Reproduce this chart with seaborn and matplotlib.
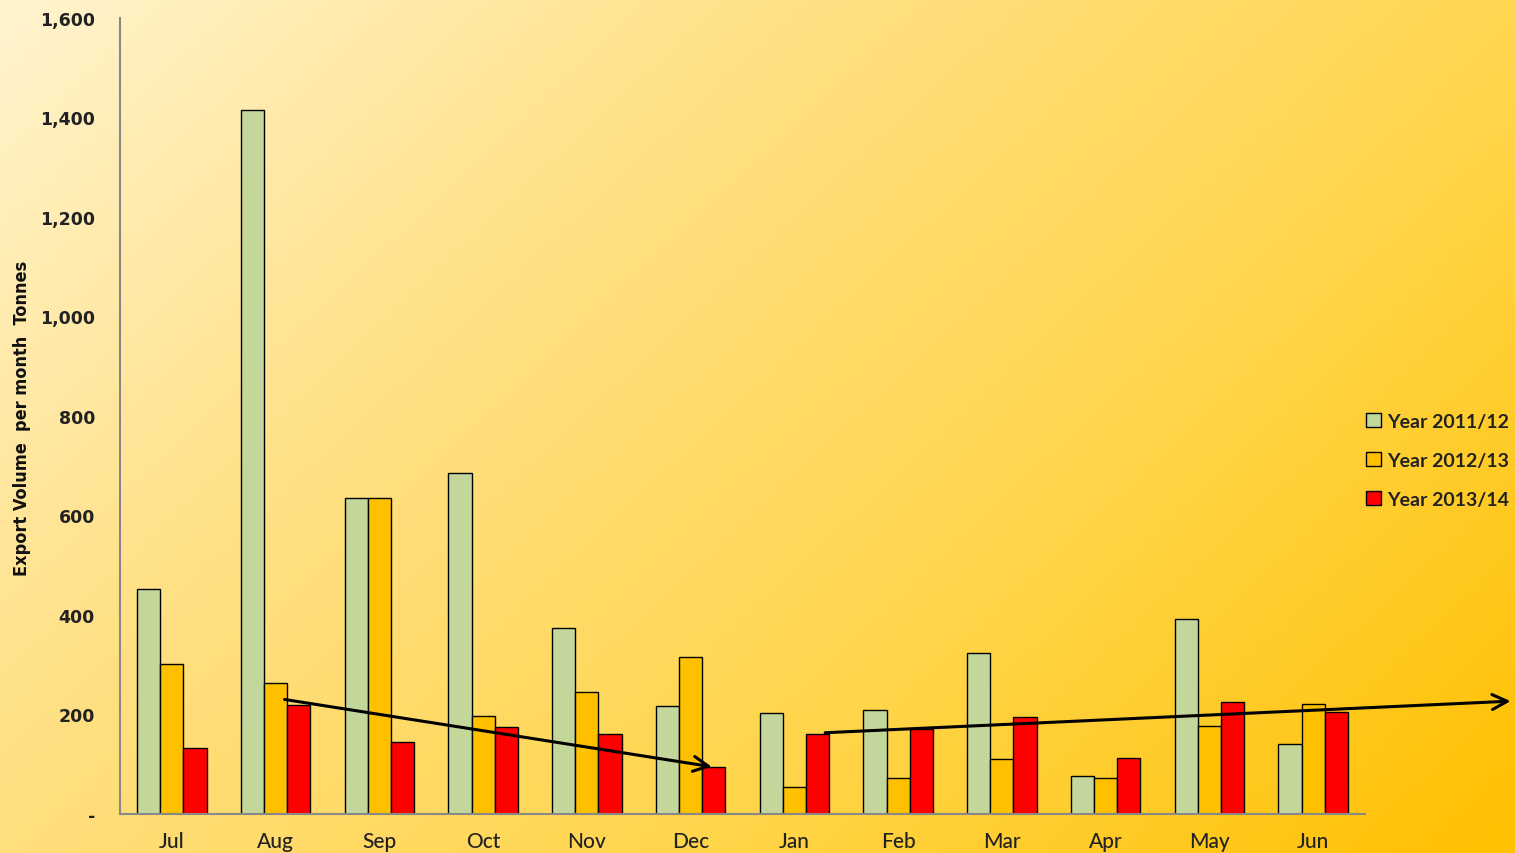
import numpy as np
import pandas as pd
import matplotlib
matplotlib.use("Agg")
import matplotlib.pyplot as plt
import seaborn as sns
from matplotlib.colors import LinearSegmentedColormap

months = ["Jul", "Aug", "Sep", "Oct", "Nov", "Dec", "Jan", "Feb", "Mar", "Apr", "May", "Jun"]
series_names = ["Year 2011/12", "Year 2012/13", "Year 2013/14"]
y2011 = [452, 1415, 635, 685, 374, 217, 203, 209, 324, 76, 392, 141]
y2012 = [301, 263, 635, 197, 245, 316, 54, 72, 111, 72, 177, 221]
y2013 = [133, 219, 145, 175, 161, 94, 161, 171, 195, 113, 225, 205]
colors = ["#C4D79B", "#FFC000", "#FF0000"]
yticks = [0, 200, 400, 600, 800, 1000, 1200, 1400, 1600]
ytick_labels = ["-", "200", "400", "600", "800", "1,000", "1,200", "1,400", "1,600"]
trend1 = [(1.06, 231), (5.23, 94)]
trend2 = [(6.27, 163), (12.93, 227)]

df = pd.DataFrame({
    "month": months * 3,
    "series": [series_names[0]] * 12 + [series_names[1]] * 12 + [series_names[2]] * 12,
    "value": y2011 + y2012 + y2013,
})

sns.set_theme(style="white")
plt.rcParams["font.family"] = ["DejaVu Sans"]

fig = plt.figure(figsize=(15.15, 8.54), dpi=100)

# gradient background
bg = fig.add_axes([0, 0, 1, 1], zorder=-10)
nx, ny = 300, 170
xx, yy = np.meshgrid(np.linspace(0, 1, nx), np.linspace(0, 1, ny))
grad = (xx * 0.75 + yy * 0.45) / 1.2
cmap = LinearSegmentedColormap.from_list("bg", ["#FFF4CF", "#FFE084", "#FFD54A", "#FFC000"])
bg.imshow(grad, cmap=cmap, aspect="auto", extent=[0, 1, 0, 1], origin="upper")
bg.axis("off")

ax = fig.add_axes([0.0792, 0.0457, 0.8218, 0.9323])
ax.set_facecolor("none")
sns.barplot(data=df, x="month", y="value", hue="series", order=months,
            hue_order=series_names, palette=colors, edgecolor="black",
            linewidth=1.0, width=0.67, gap=0, ax=ax, saturation=1, legend=True)

ax.set_xlim(-0.5, 11.5)
ax.set_ylim(0, 1600)
ax.set_yticks(yticks)
ax.set_yticklabels(ytick_labels, fontsize=12.5, fontweight="bold", color="#222222")
ax.tick_params(axis="y", length=0, pad=18)
ax.tick_params(axis="x", length=0, pad=12, labelsize=15, labelcolor="#222222")
for lab in ax.get_xticklabels():
    lab.set_family("Lato")
    lab.set_fontweight("medium")
ax.set_xlabel("")
ax.set_ylabel("")
fig.text(22 / 1515, 1 - 418 / 854, "Export Volume  per month  Tonnes", rotation=90,
         ha="center", va="center", fontsize=13, fontweight="bold",
         fontstretch="condensed", family="DejaVu Sans", color="#111111")
for s in ["top", "right"]:
    ax.spines[s].set_visible(False)
for s in ["left", "bottom"]:
    ax.spines[s].set_color("#888888")
    ax.spines[s].set_linewidth(1.5)

for (p0, p1) in [trend1, trend2]:
    ax.annotate("", xy=p1, xytext=p0, xycoords="data", textcoords="data",
                arrowprops=dict(arrowstyle="->,head_length=0.9,head_width=0.45", color="black", lw=2.2),
                annotation_clip=False)

leg = ax.legend(loc="upper left", bbox_to_anchor=(1366 / 1515, 1 - 414 / 854),
                bbox_transform=fig.transFigure, frameon=False, borderpad=0, borderaxespad=0,
                fontsize=14, handlelength=0.75, handleheight=0.75, handletextpad=0.35,
                labelspacing=1.12)
for t in leg.get_texts():
    t.set_family("Lato")
    t.set_fontweight("bold")
    t.set_color("#222222")
for h in leg.legend_handles:
    h.set_edgecolor("black")
    h.set_linewidth(1.0)

fig.savefig("out.png", dpi=100)
